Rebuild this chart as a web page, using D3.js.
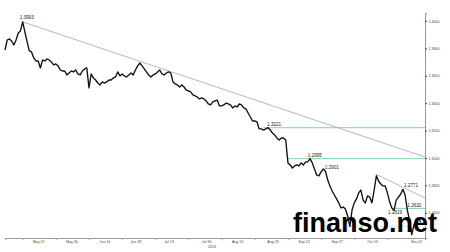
<!DOCTYPE html>
<html>
<head>
<meta charset="utf-8">
<script src="https://cdnjs.cloudflare.com/ajax/libs/d3/7.8.5/d3.min.js"></script>
<style>
  html, body { margin: 0; padding: 0; background: #fff; }
  svg { display: block; }
</style>
</head>
<body>
<div id="chart"></div>
<script>
//Data - EUR/USD, one value per calendar day from Apr 30 2014
var startDate = "2014-04-30";
var endDate = "2014-11-06";
var prices = [
  1.3788, 1.3861, 1.3869, 1.3854, 1.3825, 1.3861, 1.3912, 1.3927, 1.3993, 1.3920,
  1.3847, 1.3781, 1.3774, 1.3730, 1.3708, 1.3708, 1.3657, 1.3715, 1.3708, 1.3723,
  1.3715, 1.3701, 1.3679, 1.3686, 1.3672, 1.3642, 1.3635, 1.3635, 1.3606, 1.3620,
  1.3635, 1.3628, 1.3642, 1.3613, 1.3606, 1.3635, 1.3650, 1.3657, 1.3511, 1.3613,
  1.3584, 1.3569, 1.3547, 1.3533, 1.3555, 1.3547, 1.3555, 1.3569, 1.3569, 1.3584,
  1.3591, 1.3628, 1.3599, 1.3613, 1.3599, 1.3591, 1.3606, 1.3620, 1.3606, 1.3642,
  1.3672, 1.3693, 1.3672, 1.3650, 1.3628, 1.3606, 1.3591, 1.3606, 1.3613, 1.3628,
  1.3642, 1.3613, 1.3606, 1.3620, 1.3628, 1.3620, 1.3555, 1.3540, 1.3533, 1.3518,
  1.3533, 1.3518, 1.3496, 1.3489, 1.3482, 1.3460, 1.3453, 1.3445, 1.3431, 1.3438,
  1.3431, 1.3416, 1.3394, 1.3387, 1.3409, 1.3416, 1.3423, 1.3380, 1.3380, 1.3387,
  1.3401, 1.3394, 1.3387, 1.3365, 1.3380, 1.3372, 1.3394, 1.3387, 1.3365, 1.3358,
  1.3328, 1.3299, 1.3270, 1.3270, 1.3263, 1.3212, 1.3212, 1.3204, 1.3212, 1.3221,
  1.3204, 1.3182, 1.3168, 1.3146, 1.3131, 1.3146, 1.3146, 1.3131, 1.2964, 1.2949,
  1.2927, 1.2942, 1.2949, 1.2942, 1.2964, 1.2949, 1.2971, 1.2971, 1.2995, 1.2964,
  1.2920, 1.2876, 1.2869, 1.2898, 1.2920, 1.2901, 1.2839, 1.2796, 1.2759, 1.2730,
  1.2701, 1.2672, 1.2635, 1.2642, 1.2628, 1.2577, 1.2501, 1.2620, 1.2672, 1.2701,
  1.2745, 1.2766, 1.2693, 1.2672, 1.2723, 1.2715, 1.2672, 1.2766, 1.2870, 1.2832,
  1.2810, 1.2796, 1.2796, 1.2745, 1.2679, 1.2635, 1.2619, 1.2693, 1.2715, 1.2737,
  1.2771, 1.2730, 1.2620, 1.2547, 1.2440, 1.2511, 1.2555, 1.2562, 1.2533
];

var yTicks = [1.26, 1.28, 1.30, 1.32, 1.34, 1.36, 1.38, 1.40];
var yMinorTicks = [1.25, 1.27, 1.29, 1.31, 1.33, 1.35, 1.37, 1.39];
var xLabelDates = ["2014-05-15", "2014-05-30", "2014-06-14", "2014-06-28", "2014-07-13", "2014-07-30",
                   "2014-08-13", "2014-08-29", "2014-09-12", "2014-09-27", "2014-10-13", "2014-11-02"];
var xTickDates = ["2014-05-08", "2014-05-23", "2014-06-07", "2014-06-22", "2014-07-07", "2014-07-22",
                  "2014-08-06", "2014-08-21", "2014-09-05", "2014-09-20", "2014-10-05", "2014-10-20"];
var yearLabel = "2014";

// horizontal levels
var levelValues = [1.3221, 1.2995, 1.2632];
var levelStarts = ["2014-08-25", "2014-09-05", "2014-10-23"];
var supportValue = 1.2501;
var supportDates = ["2014-10-03", "2014-10-30"];

// trend lines
var trend1Dates = ["2014-05-08", "2014-11-06"];
var trend1Values = [1.3993, 1.3007];
var trend2Dates = ["2014-10-15", "2014-11-06"];
var trend2Values = [1.2880, 1.2708];

// price callouts
var calloutText = ["1.3993", "1.3221", "1.2995", "1.2901", "1.2771", "1.2619", "1.2632"];
var calloutDates = ["2014-05-08", "2014-08-27", "2014-09-14", "2014-09-23", "2014-10-27", "2014-10-23", "2014-10-29"];
var calloutValues = [1.3993, 1.3221, 1.2995, 1.2901, 1.2771, 1.2619, 1.2632];

var parse = d3.timeParse("%Y-%m-%d");
var start = parse(startDate);
var series = prices.map(function (v, i) {
  return { date: d3.timeDay.offset(start, i), value: v };
});

var width = 450, height = 252;
var svg = d3.select("#chart").append("svg")
  .attr("width", width)
  .attr("height", height);

var x = d3.scaleTime()
  .domain([start, parse(endDate)])
  .range([5, 425]);

var y = d3.scaleLinear()
  .domain([1.2416, 1.4058])
  .range([238, 13]);

var labelFont = "'Liberation Sans', Arial, sans-serif";

//Axes
var yAxis = svg.append("g")
  .attr("transform", "translate(425,0)")
  .call(d3.axisRight(y).tickValues(yTicks).tickSize(2).tickPadding(1.5)
    .tickFormat(d3.format(".4f")));
yAxis.select(".domain").attr("stroke", "#999");
yAxis.selectAll(".tick line").attr("stroke", "#444");
yAxis.selectAll("text").attr("font-size", "3.6px").attr("font-family", labelFont).attr("fill", "#444");

svg.append("g")
  .attr("transform", "translate(425,0)")
  .call(d3.axisRight(y).tickValues(yMinorTicks).tickSize(1.5).tickFormat(""))
  .call(function (g) { g.select(".domain").remove(); })
  .selectAll(".tick line").attr("stroke", "#aaa");

var xAxis = svg.append("g")
  .attr("transform", "translate(0,238)")
  .call(d3.axisBottom(x).tickValues(xTickDates.map(parse)).tickSize(2).tickFormat(""));
xAxis.select(".domain").attr("stroke", "#999");
xAxis.selectAll(".tick line").attr("stroke", "#aaa");

svg.append("g")
  .attr("transform", "translate(0,238)")
  .call(d3.axisBottom(x).tickValues(xLabelDates.map(parse)).tickSize(0).tickPadding(2)
    .tickFormat(d3.timeFormat("%b %d")))
  .call(function (g) { g.select(".domain").remove(); })
  .selectAll("text")
  .attr("font-size", "3.6px").attr("font-family", labelFont).attr("fill", "#444");

svg.append("text")
  .attr("x", 212).attr("y", 248)
  .attr("text-anchor", "middle")
  .attr("font-size", "3.6px").attr("font-family", labelFont).attr("fill", "#444")
  .text(yearLabel);

//Levels and trend lines
var endX = x(parse(endDate));
svg.selectAll(".level")
  .data(levelValues).enter()
  .append("line").attr("class", "level")
  .attr("x1", function (d, i) { return x(parse(levelStarts[i])); })
  .attr("x2", endX)
  .attr("y1", function (d) { return y(d); })
  .attr("y2", function (d) { return y(d); })
  .attr("stroke", "#86d3a6")
  .attr("stroke-width", 1);

svg.append("line")
  .attr("x1", x(parse(supportDates[0]))).attr("x2", x(parse(supportDates[1])))
  .attr("y1", y(supportValue)).attr("y2", y(supportValue))
  .attr("stroke", "#b5e3c6").attr("stroke-width", 0.8)
  .attr("stroke-dasharray", "3,2");

var trendLine = d3.line()
  .x(function (d) { return x(d.date); })
  .y(function (d) { return y(d.value); });

[[trend1Dates, trend1Values], [trend2Dates, trend2Values]].forEach(function (t) {
  svg.append("path")
    .datum(t[0].map(function (d, i) { return { date: parse(d), value: t[1][i] }; }))
    .attr("d", trendLine)
    .attr("fill", "none")
    .attr("stroke", "#aaa8e0")
    .attr("stroke-width", 0.9);
});

//Price line
var line = d3.line()
  .x(function (d) { return x(d.date); })
  .y(function (d) { return y(d.value); });

svg.append("path")
  .datum(series)
  .attr("d", line)
  .attr("fill", "none")
  .attr("stroke", "#111")
  .attr("stroke-width", 1.35)
  .attr("stroke-linejoin", "round");

//Callouts
var dx = [-3, -1, 0, -3, 1, -6, 0];
var dy = [-3, -1.2, -1.2, -2.5, -2, 3.5, -1.5];
svg.selectAll(".callout")
  .data(calloutText).enter()
  .append("text").attr("class", "callout")
  .attr("x", function (d, i) { return x(parse(calloutDates[i])) + dx[i]; })
  .attr("y", function (d, i) { return y(calloutValues[i]) + dy[i]; })
  .attr("font-size", "4.6px")
  .attr("font-family", labelFont)
  .attr("fill", "#222")
  .text(function (d) { return d; });

//Watermark
svg.append("text")
  .attr("x", 293).attr("y", 232)
  .attr("font-family", labelFont)
  .attr("font-weight", "bold")
  .attr("font-size", "27px")
  .attr("fill", "#000")
  .text("finanso.net");
</script>
</body>
</html>
